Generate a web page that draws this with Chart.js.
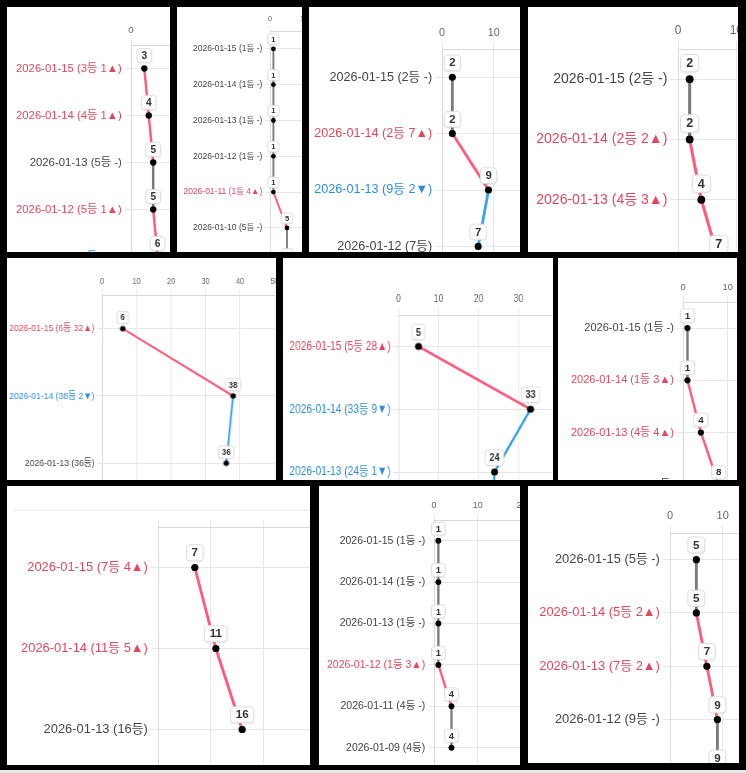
<!DOCTYPE html>
<html><head><meta charset="utf-8">
<script src="https://cdn.jsdelivr.net/npm/chart.js@4.4.1/dist/chart.umd.min.js"></script>
<style>
html,body{margin:0;padding:0;background:#000;width:746px;height:773px;overflow:hidden;}
.panel{position:absolute;background:#fff;overflow:hidden;}
.panel canvas{position:absolute;transform-origin:0 0;}
.hline{position:absolute;height:1px;background:#ececec;}
.bottomstrip{position:absolute;left:0;top:770px;width:746px;height:3px;background:#e6e6e6;}
</style></head><body>
<script>
// ---- data ----
const p1Dates = ['2026-01-15','2026-01-14','2026-01-13','2026-01-12','2026-01-11','2026-01-10'];
const p1Ranks = [3,4,5,5,6,5];
const p2Dates = ['2026-01-15','2026-01-14','2026-01-13','2026-01-12','2026-01-11','2026-01-10','2026-01-09'];
const p2Ranks = [1,1,1,1,1,5,5];
const p3Dates = ['2026-01-15','2026-01-14','2026-01-13','2026-01-12'];
const p3Ranks = [2,2,9,7];
const p4Dates = ['2026-01-15','2026-01-14','2026-01-13','2026-01-12'];
const p4Ranks = [2,2,4,7];
const p5Dates = ['2026-01-15','2026-01-14','2026-01-13'];
const p5Ranks = [6,38,36];
const p6Dates = ['2026-01-15','2026-01-14','2026-01-13','2026-01-12'];
const p6Ranks = [5,33,24,23];
const p7Dates = ['2026-01-15','2026-01-14','2026-01-13','2026-01-12'];
const p7Ranks = [1,1,4,8];
const p8Dates = ['2026-01-15','2026-01-14','2026-01-13'];
const p8Ranks = [7,11,16];
const p9Dates = ['2026-01-15','2026-01-14','2026-01-13','2026-01-12','2026-01-11','2026-01-09'];
const p9Ranks = [1,1,1,1,4,4];
const p10Dates = ['2026-01-15','2026-01-14','2026-01-13','2026-01-12','2026-01-11'];
const p10Ranks = [5,5,7,9,9];
const xTickStep = 10;
const xMax = 50;

// ---- styles ----
const RED_TXT = '#e2485d', BLUE_TXT = '#2b8de0', GRAY_TXT = '#444';
const RED_LN = 'rgb(255,92,124)', BLUE_LN = 'rgb(54,162,235)', GRAY_LN = '#7a7a7a';
const FAM = '"Liberation Sans", Arial, "Noto Sans CJK KR", sans-serif';

const panels = [
  {dates:p1Dates, ranks:p1Ranks, box:[7,7,163,245], f:11.3, x0:130.7, ppu:4.44, top:44.5, step:47},
  {dates:p2Dates, ranks:p2Ranks, box:[177,7,125,245], f:8.5, x0:270.3, ppu:3.4, top:31.4, step:35.8},
  {dates:p3Dates, ranks:p3Ranks, box:[309,7,211,245], f:12.6, x0:441.7, ppu:5.17, top:48.5, step:56.4},
  {dates:p4Dates, ranks:p4Ranks, box:[528,7,210,245], f:14, x0:678.3, ppu:5.83, top:49.3, step:60.3},
  {dates:p5Dates, ranks:p5Ranks, box:[7,258,269,222], f:9.8, sx:0.88, x0:101.7, ppu:3.45, top:295, step:67.3},
  {dates:p6Dates, ranks:p6Ranks, box:[283,258,270,222], f:12.6, sx:0.81, x0:398.3, ppu:4.0, top:314.5, step:62.8},
  {dates:p7Dates, ranks:p7Ranks, box:[558,258,179,222], f:11, x0:682.7, ppu:4.47, top:302, step:52.2},
  {dates:p8Dates, ranks:p8Ranks, box:[7,486,303,279], f:12.9, x0:158.2, ppu:5.26, top:527, step:81, hideX:true, line:510},
  {dates:p9Dates, ranks:p9Ranks, box:[319,486,201,279], f:10.5, x0:434, ppu:4.37, top:520, step:41.4},
  {dates:p10Dates, ranks:p10Ranks, box:[528,486,211,277], f:12.9, x0:670, ppu:5.27, top:532.5, step:53.3}
];

function makeLabels(dates, ranks){
  return dates.map((d,i)=>{
    const r = ranks[i], n = ranks[i+1];
    if (n === undefined) return d + ' (' + r + '등)';
    const diff = n - r;
    if (diff > 0) return d + ' (' + r + '등 ' + diff + '▲)';
    if (diff < 0) return d + ' (' + r + '등 ' + (-diff) + '▼)';
    return d + ' (' + r + '등 -)';
  });
}
function makeColors(ranks){
  return ranks.map((r,i)=>{
    const n = ranks[i+1];
    if (n === undefined || n === r) return GRAY_TXT;
    return n > r ? RED_TXT : BLUE_TXT;
  });
}
function segColor(a,b){ return a < b ? RED_LN : (a > b ? BLUE_LN : GRAY_LN); }

function rr(ctx,x,y,w,h,r){
  ctx.beginPath();
  ctx.moveTo(x+r,y); ctx.lineTo(x+w-r,y); ctx.quadraticCurveTo(x+w,y,x+w,y+r);
  ctx.lineTo(x+w,y+h-r); ctx.quadraticCurveTo(x+w,y+h,x+w-r,y+h);
  ctx.lineTo(x+r,y+h); ctx.quadraticCurveTo(x,y+h,x,y+h-r);
  ctx.lineTo(x,y+r); ctx.quadraticCurveTo(x,y,x+r,y); ctx.closePath();
}
function dotImage(r, sx){
  const c = document.createElement('canvas');
  const w = Math.ceil(2*r/sx)+2, h = Math.ceil(2*r)+2;
  c.width = w; c.height = h;
  const g = c.getContext('2d');
  g.fillStyle = '#000'; g.beginPath();
  g.ellipse(w/2, h/2, r/sx, r, 0, 0, Math.PI*2); g.fill();
  return c;
}

const boxPlugin = {
  id:'rankBoxes',
  afterDatasetsDraw(chart, args, opts){
    const ctx = chart.ctx, f = opts.f, fam = opts.fam;
    const fs = f*0.9, ph = f*0.4, pv = f*0.17, gap = f*0.52;
    const meta = chart.getDatasetMeta(0);
    const vals = chart.data.datasets[0].data;
    ctx.save();
    ctx.font = 'bold ' + fs + 'px ' + fam;
    ctx.textAlign = 'center'; ctx.textBaseline = 'middle';
    meta.data.forEach((el,i)=>{
      const t = String(vals[i]);
      const w = ctx.measureText(t).width + 2*ph, h = fs + 2*pv;
      const bx = el.x - w/2, by = el.y - gap - h;
      ctx.shadowColor = 'rgba(0,0,0,0.10)'; ctx.shadowBlur = 2; ctx.shadowOffsetY = 1;
      rr(ctx,bx,by,w,h,f*0.25);
      ctx.fillStyle = '#fff'; ctx.fill();
      ctx.shadowColor = 'transparent';
      ctx.strokeStyle = '#dedede'; ctx.lineWidth = 1; ctx.stroke();
      ctx.fillStyle = '#333';
      ctx.fillText(t, el.x, by + h/2 + 0.5);
    });
    ctx.restore();
  }
};

panels.forEach(p=>{
  const div = document.createElement('div');
  div.className = 'panel';
  div.style.left = p.box[0]+'px'; div.style.top = p.box[1]+'px';
  div.style.width = p.box[2]+'px'; div.style.height = p.box[3]+'px';
  document.body.appendChild(div);
  if (p.line){
    const l = document.createElement('div'); l.className='hline';
    l.style.left = '6px'; l.style.top = (p.line - p.box[1])+'px'; l.style.width = (p.box[2])+'px';
    div.appendChild(l);
  }
  const sx = p.sx || 1;
  const W = 250, H = 60;
  const n = p.dates.length;
  const areaW = xMax * p.ppu / sx, areaH = n * p.step;
  const f = p.f, fam = FAM;
  const padB0 = Math.ceil(f*1.5) + 12;
  const cw = Math.ceil(W + areaW + 40), ch = Math.ceil(H + areaH + padB0);
  const padR = cw - W - areaW, padB = ch - H - areaH;
  const cv = document.createElement('canvas');
  cv.width = cw; cv.height = ch;
  cv.style.width = cw+'px'; cv.style.height = ch+'px';
  cv.style.left = (p.x0 - W*sx - p.box[0])+'px';
  cv.style.top = (p.top - H - p.box[1])+'px';
  if (sx !== 1) cv.style.transform = 'scaleX(' + sx + ')';
  div.appendChild(cv);
  const tl = f*0.55;
  const pr = f*0.28;
  const labels = makeLabels(p.dates, p.ranks);
  const colors = makeColors(p.ranks);
  const ds = {
    data:p.ranks, borderColor:GRAY_LN, borderWidth:f*0.22, tension:0, fill:false,
    pointRadius:pr, pointHoverRadius:pr, pointBackgroundColor:'#000', pointBorderColor:'#000', pointBorderWidth:0,
    segment:{borderColor: c => segColor(c.p0.parsed.x, c.p1.parsed.x)}
  };
  if (sx !== 1) ds.pointStyle = dotImage(pr, sx);
  new Chart(cv, {
    type:'line',
    data:{labels:labels, datasets:[ds]},
    options:{
      indexAxis:'y', responsive:false, animation:false, events:[],
      layout:{padding:{left:0, top:0, right:padR, bottom:padB}},
      plugins:{legend:{display:false}, tooltip:{enabled:false}, rankBoxes:{f:f, fam:fam}},
      scales:{
        x:{type:'linear', position:'top', min:0, max:xMax,
           ticks:{stepSize:xTickStep, display:!p.hideX, color:'#666', padding:3, font:{size:f*0.85, family:fam}},
           grid:{color:'#e7e7e7', tickLength:tl},
           border:{color:'#d9d9d9'},
           afterFit: s => { s.height = H; }},
        y:{type:'category', offset:true,
           ticks:{autoSkip:false, padding:3, color: c => colors[c.index], font:{size:f, family:fam}},
           grid:{color:'#e7e7e7', tickLength:tl, offset:false},
           border:{color:'#d9d9d9'},
           afterFit: s => { s.width = W; }}
      }
    },
    plugins:[boxPlugin]
  });
});
const bs = document.createElement('div'); bs.className='bottomstrip'; document.body.appendChild(bs);
</script>
</body></html>
